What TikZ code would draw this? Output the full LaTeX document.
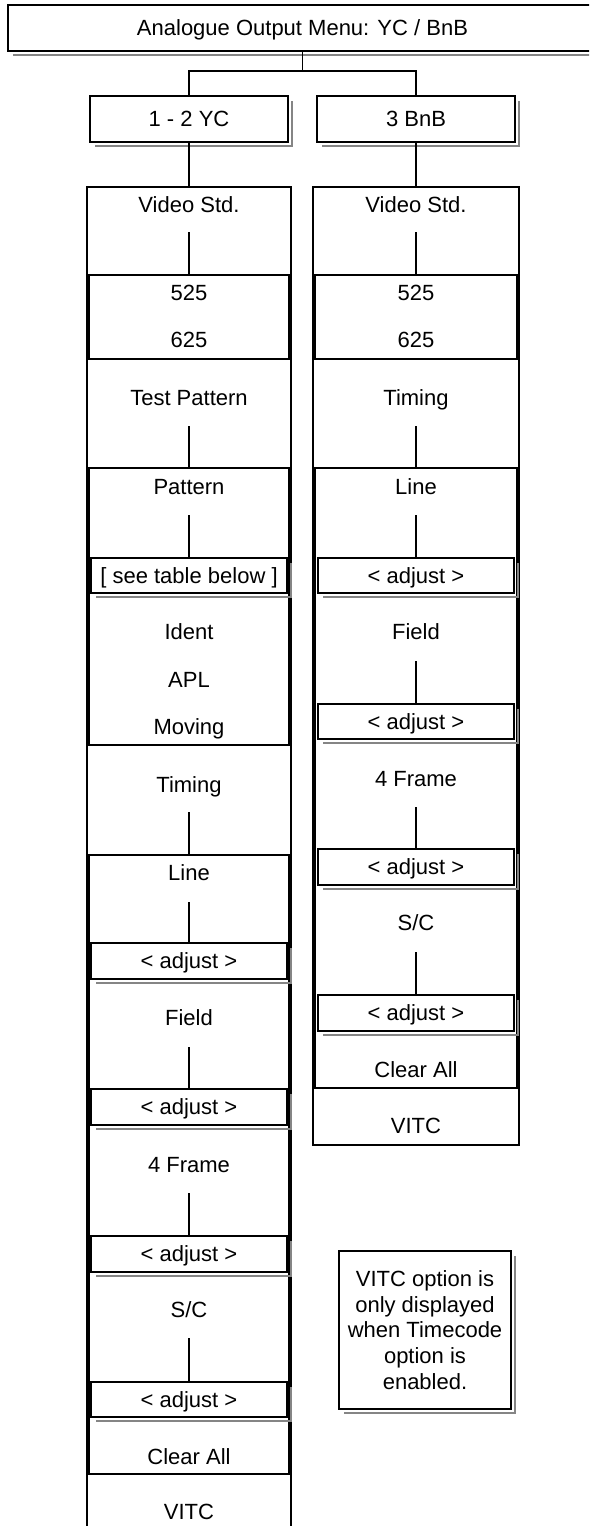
\documentclass[tikz,border=0pt]{standalone}
\usepackage{fontspec}
\setmainfont{Liberation Sans}
\usetikzlibrary{fit}
\tikzset{
  frame/.style={draw=black, line width=1.1pt, inner sep=0pt, outer sep=0pt, rectangle},
  solidbox/.style={frame, fill=white},
  txt/.style={inner sep=0pt, outer sep=0pt, font=\fontsize{22}{26}\selectfont, text height=15.8pt, text depth=0pt},
  notetxt/.style={inner sep=0pt, outer sep=0pt, font=\fontsize{22}{25.8}\selectfont, align=center},
  link/.style={draw=black, line width=1.1pt},
  shadeline/.style={draw=black!48, line width=2.8pt}
}
\newcommand\dropshade[1]{\draw[shadeline] ([xshift=5pt,yshift=-4pt]#1.south west) -- ([xshift=4pt,yshift=-4pt]#1.south east) -- ([xshift=4pt,yshift=-5pt]#1.north east);}
\begin{document}
\begin{tikzpicture}[x=1pt,y=-1pt]
\useasboundingbox (0,0) rectangle (589,1526);
\clip (0,0) rectangle (589,1526);
\fill[white] (0,0) rectangle (589,1526);

% header boxes
\node[solidbox, fit={(8,5) (597,51)}] (title) {};
\node[solidbox, fit={(90,96) (288,142)}] (yc) {};
\node[solidbox, fit={(317,96) (515,142)}] (bnb) {};

% columns
\node[frame, fit={(87,187) (291,1545)}] (colL) {};
\node[frame, fit={(313,187) (519,1145)}] (colR) {};

% left inner boxes
\node[frame, fit={(89,275) (289,359)}] (Lstd) {};
\node[frame, fit={(89,468) (289,745)}] (Lpat) {};
\node[frame, fit={(89,855) (289,1474)}] (Lline) {};
\node[solidbox, fit={(91,558) (287,593)}] (Ltab) {};
\node[solidbox, fit={(91,943) (287,979)}] (La1) {};
\node[solidbox, fit={(91,1089) (287,1125)}] (La2) {};
\node[solidbox, fit={(91,1236) (287,1272)}] (La3) {};
\node[solidbox, fit={(91,1382) (287,1417)}] (La4) {};

% right inner boxes
\node[frame, fit={(315,275) (517,359)}] (Rstd) {};
\node[frame, fit={(315,468) (517,1088)}] (Rline) {};
\node[solidbox, fit={(318,558) (514,593)}] (Ra1) {};
\node[solidbox, fit={(318,704) (514,739)}] (Ra2) {};
\node[solidbox, fit={(318,849) (514,885)}] (Ra3) {};
\node[solidbox, fit={(318,995) (514,1031)}] (Ra4) {};

% note
\node[solidbox, fit={(339,1251) (511,1409)}] (note) {};

% shadows
\foreach \n in {title,yc,bnb,Ltab,La1,La2,La3,La4,Ra1,Ra2,Ra3,Ra4,note}{\dropshade{\n}}

% connectors
\coordinate (j) at (302.5,71);
\draw[link] (title.south) -- (j);
\draw[link] (yc.north) |- (j) -| (bnb.north);
\draw[link] (yc.south) -- (colL.north);
\draw[link] (bnb.south) -- (colR.north);

\coordinate (l1) at (189,232);
\coordinate (l2) at (189,426);
\coordinate (l3) at (189,515);
\coordinate (l4) at (189,812);
\coordinate (l5) at (189,902);
\coordinate (l6) at (189,1047);
\coordinate (l7) at (189,1193);
\coordinate (l8) at (189,1338);
\draw[link] (l1) -- (Lstd.north);
\draw[link] (l2) -- (Lpat.north);
\draw[link] (l3) -- (Ltab.north);
\draw[link] (l4) -- (Lline.north);
\draw[link] (l5) -- (La1.north);
\draw[link] (l6) -- (La2.north);
\draw[link] (l7) -- (La3.north);
\draw[link] (l8) -- (La4.north);

\coordinate (r1) at (416,232);
\coordinate (r2) at (416,426);
\coordinate (r3) at (416,515);
\coordinate (r4) at (416,661);
\coordinate (r5) at (416,807);
\coordinate (r6) at (416,952);
\draw[link] (r1) -- (Rstd.north);
\draw[link] (r2) -- (Rline.north);
\draw[link] (r3) -- (Ra1.north);
\draw[link] (r4) -- (Ra2.north);
\draw[link] (r5) -- (Ra3.north);
\draw[link] (r6) -- (Ra4.north);

% texts header
\node[txt] (ttitle) at (title.center) {Analogue Output Menu: YC / BnB};
\node[txt] (tyc) at (yc.center) {1 - 2 YC};
\node[txt] (tbnb) at (bnb.center) {3 BnB};

% left texts
\node[txt] (lt1) at (189,205) {Video Std.};
\node[txt] (lt2) at (189,293) {525};
\node[txt] (lt3) at (189,340) {625};
\node[txt] (lt4) at (189,398) {Test Pattern};
\node[txt] (lt5) at (189,487) {Pattern};
\node[txt] (lt6) at (Ltab.center) {[ see table below ]};
\node[txt] (lt7) at (189,632) {Ident};
\node[txt] (lt8) at (189,680) {APL};
\node[txt] (lt9) at (189,727) {Moving};
\node[txt] (lt10) at (189,785) {Timing};
\node[txt] (lt11) at (189,873) {Line};
\node[txt] (lt12) at (La1.center) {< adjust >};
\node[txt] (lt13) at (189,1018) {Field};
\node[txt] (lt14) at (La2.center) {< adjust >};
\node[txt] (lt15) at (189,1165) {4 Frame};
\node[txt] (lt16) at (La3.center) {< adjust >};
\node[txt] (lt17) at (189,1310) {S/C};
\node[txt] (lt18) at (La4.center) {< adjust >};
\node[txt] (lt19) at (189,1457) {Clear All};
\node[txt] (lt20) at (189,1512) {VITC};

% right texts
\node[txt] (rt1) at (416,205) {Video Std.};
\node[txt] (rt2) at (416,293) {525};
\node[txt] (rt3) at (416,340) {625};
\node[txt] (rt4) at (416,398) {Timing};
\node[txt] (rt5) at (416,487) {Line};
\node[txt] (rt6) at (Ra1.center) {< adjust >};
\node[txt] (rt7) at (416,632) {Field};
\node[txt] (rt8) at (Ra2.center) {< adjust >};
\node[txt] (rt9) at (416,779) {4 Frame};
\node[txt] (rt10) at (Ra3.center) {< adjust >};
\node[txt] (rt11) at (416,923) {S/C};
\node[txt] (rt12) at (Ra4.center) {< adjust >};
\node[txt] (rt13) at (416,1070) {Clear All};
\node[txt] (rt14) at (416,1126) {VITC};

% note text
\node[notetxt] (tnote) at (note.center) {VITC option is\\only displayed\\when Timecode\\option is\\enabled.};
\end{tikzpicture}
\end{document}
